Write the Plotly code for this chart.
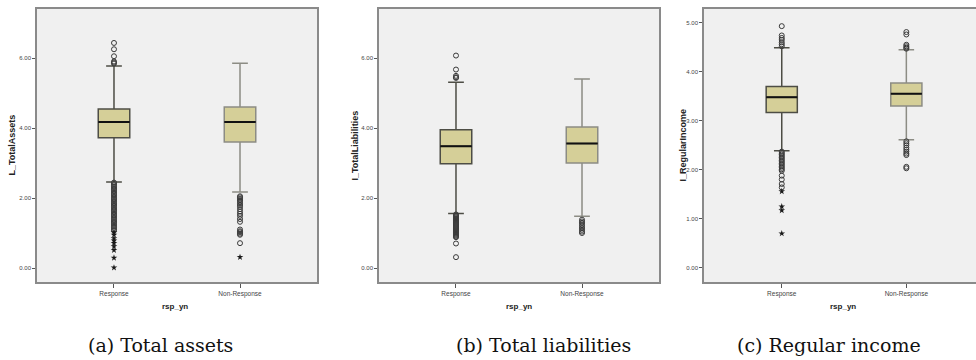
import plotly.graph_objects as go

categories = ["Response", "Non-Response"]

# Panel (a) L_TotalAssets
a_q1 = [3.72, 3.60]
a_med = [4.17, 4.17]
a_q3 = [4.54, 4.60]
a_lo = [2.46, 2.17]
a_hi = [5.77, 5.85]
a_resp_circ = [5.84, 5.87, 5.90, 6.05, 6.25, 6.43,
               2.44, 2.40, 2.36, 2.32, 2.28, 2.25, 2.21, 2.17, 2.13, 2.10, 2.06, 2.02,
               1.98, 1.95, 1.91, 1.87, 1.83, 1.80, 1.76, 1.72, 1.68, 1.65, 1.61, 1.57,
               1.53, 1.50, 1.46, 1.42, 1.38, 1.34, 1.31, 1.27, 1.23, 1.19, 1.15, 1.11, 1.07]
a_resp_star = [1.02, 0.95, 0.85, 0.78, 0.71, 0.62, 0.51, 0.29, 0.01]
a_nr_circ = [2.05, 2.02, 1.98, 1.94, 1.90, 1.85, 1.80, 1.75, 1.68, 1.61, 1.55, 1.49,
             1.40, 1.32, 1.10, 1.05, 1.02, 0.98, 0.95, 0.71]
a_nr_star = [0.31]

# Panel (b) I_TotalLiabilities
b_q1 = [2.98, 3.00]
b_med = [3.48, 3.56]
b_q3 = [3.95, 4.03]
b_lo = [1.56, 1.48]
b_hi = [5.31, 5.40]
b_resp_circ = [6.07, 5.67, 5.49, 5.45, 5.43,
               1.53, 1.50, 1.47, 1.44, 1.41, 1.38, 1.35, 1.32, 1.29, 1.26, 1.23, 1.20,
               1.17, 1.14, 1.11, 1.08, 1.05, 1.02, 0.99, 0.96, 0.93, 0.90, 0.88, 0.70, 0.31]
b_resp_star = []
b_nr_circ = [1.38, 1.33, 1.29, 1.24, 1.19, 1.14, 1.09, 1.04, 1.00]
b_nr_star = []

# Panel (c) I_RegularIncome
c_q1 = [3.17, 3.30]
c_med = [3.48, 3.55]
c_q3 = [3.70, 3.77]
c_lo = [2.39, 2.61]
c_hi = [4.49, 4.45]
c_resp_circ = [4.93, 4.74, 4.69, 4.65, 4.60, 4.56, 4.52,
               2.37, 2.34, 2.31, 2.28, 2.25, 2.22, 2.19, 2.16, 2.13, 2.10, 2.07, 2.04,
               2.01, 1.98, 1.88, 1.80, 1.71, 1.64]
c_resp_star = [1.56, 1.25, 1.17, 0.70]
c_nr_circ = [4.81, 4.76, 4.55, 4.52, 4.49, 4.47,
             2.58, 2.54, 2.50, 2.45, 2.41, 2.37, 2.33, 2.30, 2.06, 2.03]
c_nr_star = []

y_titles = ["L_TotalAssets", "I_TotalLiabilities", "I_RegularIncome"]
x_title = "rsp_yn"
captions = ["(a) Total assets", "(b) Total liabilities", "(c) Regular income"]
y_ticks = [[0, 2, 4, 6], [0, 2, 4, 6], [0, 1, 2, 3, 4, 5]]

panels = [
    (a_q1, a_med, a_q3, a_lo, a_hi, a_resp_circ, a_resp_star, a_nr_circ, a_nr_star),
    (b_q1, b_med, b_q3, b_lo, b_hi, b_resp_circ, b_resp_star, b_nr_circ, b_nr_star),
    (c_q1, c_med, c_q3, c_lo, c_hi, c_resp_circ, c_resp_star, c_nr_circ, c_nr_star),
]

W, H = 976, 360
px_x = [(37, 317), (379, 659), (704, 976)]
px_top, px_bot = 9, 282
x_ranges = [[-0.611, 1.611], [-0.611, 1.611], [-0.624, 1.559]]
y_ranges = [[-0.4, 7.4], [-0.4, 7.4], [-0.29, 5.28]]
ytitle_x = [11, 354, 682]
xtitle_cx = [175, 519, 843]
caption_cx = [160, 543, 829]

FILL = "#d5cf98"
BG = "#f0f0f0"
FRAME = "#8a8a8a"
line_cols = ["#4d4d45", "#8c8c84"]

fig = go.Figure()
for i, (q1, med, q3, lo, hi, rc, rs, nc, ns) in enumerate(panels):
    xa = "x" if i == 0 else f"x{i+1}"
    ya = "y" if i == 0 else f"y{i+1}"
    for j, cat in enumerate(categories):
        fig.add_trace(go.Box(
            x=[cat], q1=[q1[j]], median=[med[j]], q3=[q3[j]],
            lowerfence=[lo[j]], upperfence=[hi[j]],
            fillcolor=FILL, line=dict(color=line_cols[j], width=1.5),
            width=0.25, whiskerwidth=0.5, boxpoints=False,
            showlegend=False, hoverinfo="skip", xaxis=xa, yaxis=ya))
        fig.add_trace(go.Box(
            x=[cat], q1=[med[j]], median=[med[j]], q3=[med[j]],
            lowerfence=[med[j]], upperfence=[med[j]],
            fillcolor="rgba(0,0,0,0)", line=dict(color="#111111", width=2),
            width=0.25, whiskerwidth=0, boxpoints=False,
            showlegend=False, hoverinfo="skip", xaxis=xa, yaxis=ya))
    for cat, circ, star in [(categories[0], rc, rs), (categories[1], nc, ns)]:
        if circ:
            fig.add_trace(go.Scatter(
                x=[cat] * len(circ), y=circ, mode="markers",
                marker=dict(symbol="circle-open", size=5, color="#3a3a3a",
                            line=dict(width=1, color="#3a3a3a")),
                showlegend=False, hoverinfo="skip", xaxis=xa, yaxis=ya))
        if star:
            fig.add_trace(go.Scatter(
                x=[cat] * len(star), y=star, mode="markers",
                marker=dict(symbol="star", size=5, color="#1a1a1a"),
                showlegend=False, hoverinfo="skip", xaxis=xa, yaxis=ya))

layout = dict(
    width=W, height=H, margin=dict(l=0, r=0, t=0, b=0),
    paper_bgcolor="white", plot_bgcolor=BG, boxmode="overlay",
    showlegend=False, annotations=[],
)
ydom = [1 - px_bot / H, 1 - px_top / H]
ytickfont = dict(family="Liberation Sans Narrow, Liberation Sans, Arial", size=6, color="#444444")
xtickfont = dict(family="Liberation Sans Narrow, Liberation Sans, Arial", size=6.5, color="#444444")
for i in range(3):
    xk = "xaxis" if i == 0 else f"xaxis{i+1}"
    yk = "yaxis" if i == 0 else f"yaxis{i+1}"
    l, r = px_x[i]
    layout[xk] = dict(
        domain=[l / W, r / W], anchor="y" if i == 0 else f"y{i+1}",
        type="category", categoryorder="array", categoryarray=categories,
        range=x_ranges[i], showgrid=False, zeroline=False,
        showline=True, linecolor=FRAME, linewidth=1.5, mirror=True,
        ticks="outside", ticklen=4, tickcolor="#555555", tickwidth=1,
        tickfont=xtickfont, fixedrange=True)
    layout[yk] = dict(
        domain=ydom, anchor="x" if i == 0 else f"x{i+1}",
        range=y_ranges[i], showgrid=False, zeroline=False,
        showline=True, linecolor=FRAME, linewidth=1.5, mirror=(i < 2),
        ticks="outside", ticklen=3, tickcolor="#555555", tickwidth=1,
        tickvals=y_ticks[i], tickformat=".2f", tickfont=ytickfont, fixedrange=True)
    layout["annotations"].append(dict(
        text="<b>" + y_titles[i] + "</b>", x=ytitle_x[i] / W,
        y=1 - (px_top + px_bot) / 2 / H,
        xref="paper", yref="paper", showarrow=False, textangle=-90,
        font=dict(family="Liberation Sans, Arial", size=9, color="#222222"),
        xanchor="center", yanchor="middle"))
    layout["annotations"].append(dict(
        text="<b>" + x_title + "</b>", x=xtitle_cx[i] / W, y=1 - 306 / H,
        xref="paper", yref="paper", showarrow=False,
        font=dict(family="Liberation Sans, Arial", size=8, color="#222222"),
        xanchor="center", yanchor="middle"))
    layout["annotations"].append(dict(
        text=captions[i], x=caption_cx[i] / W, y=1 - 345 / H,
        xref="paper", yref="paper", showarrow=False,
        font=dict(family="DejaVu Serif, Liberation Serif, serif", size=19, color="#111111"),
        xanchor="center", yanchor="middle"))

fig.update_layout(**layout)
fig.write_html("out.html", config={"displayModeBar": False},
               post_script="document.body.style.margin='0px';")
